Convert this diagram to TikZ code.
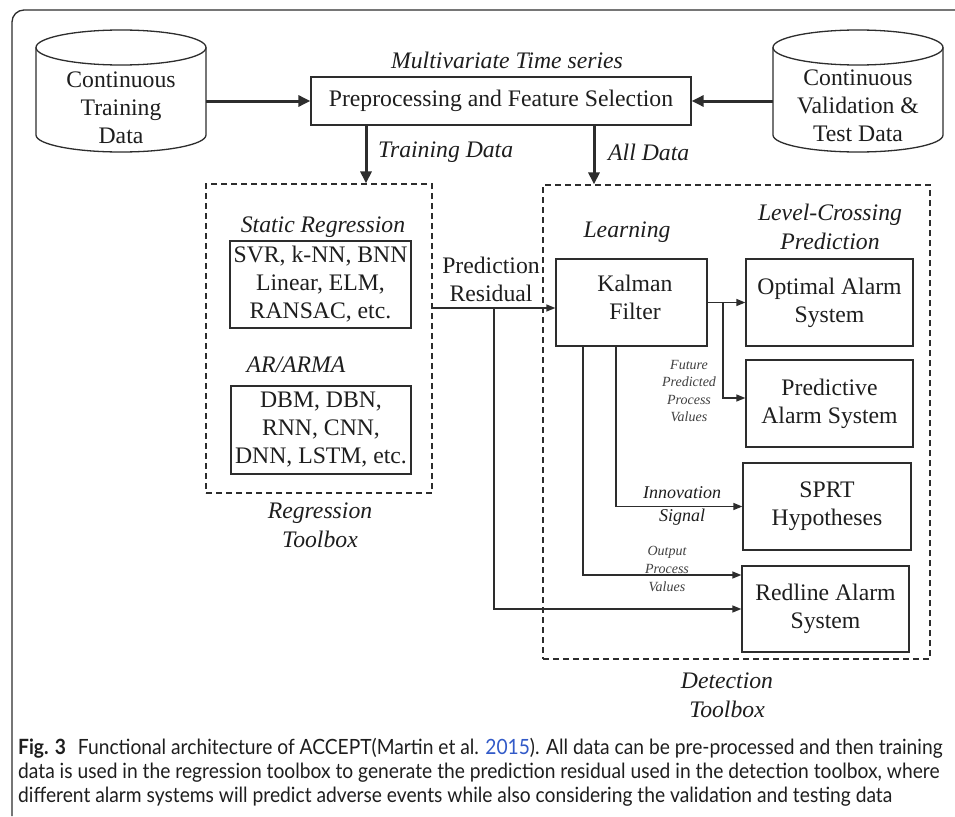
\documentclass[tikz,border=0pt]{standalone}
\usepackage{fontspec}
\setmainfont{Liberation Serif}
\newfontfamily\capfont[FakeStretch=0.915]{Lato}
\usetikzlibrary{arrows.meta,calc}
\definecolor{linec}{RGB}{45,45,45}
\definecolor{txtc}{RGB}{30,30,30}
\definecolor{linkc}{RGB}{50,90,200}
\newcommand{\fsz}[2]{\fontsize{#1}{#2}\selectfont}
\tikzset{
  box/.style={draw=linec, line width=1.3pt, inner sep=0pt, align=center, text=txtc, font=\fsz{23.7}{28}},
  txt/.style={inner sep=0pt, align=center, text=txtc, font=\fsz{23.7}{28}},
  itl/.style={inner sep=0pt, align=center, text=txtc, font=\fsz{23.7}{29}\itshape},
  sml/.style={inner sep=0pt, align=center, text=txtc!85, font=\fsz{14}{17.6}\itshape},
  mid/.style={inner sep=0pt, align=center, text=txtc, font=\fsz{18}{23}\itshape},
  dbox/.style={draw=linec, line width=1.2pt, dash pattern=on 6pt off 4pt},
  thick arrow/.style={draw=linec, line width=3pt, -{Triangle[length=12pt,width=11pt]}},
  thin arrow/.style={draw=linec, line width=1.3pt, -{Triangle[length=9pt,width=7pt]}},
  cyl/.style={draw=linec, line width=1.3pt},
  ghost/.style={inner sep=0pt, minimum width=170pt, minimum height=122pt},
  capt/.style={inner sep=0pt, anchor=base west, text=txtc, font=\fsz{21}{24}\capfont}
}
\begin{document}
\begin{tikzpicture}[x=1pt,y=-1pt]
\useasboundingbox (0,0) rectangle (955,816);
\fill[white] (0,0) rectangle (955,816);
% outer frame
\draw[line width=1.3pt, linec, rounded corners=12pt] (12,816) -- (12,10) -- (955,10);

% cylinders
\node[ghost] (ctd) at (121,91) {};
\draw[cyl] (36,47.5) -- (36,135) arc[start angle=180, end angle=0, x radius=85, y radius=17] -- (206,47.5);
\draw[cyl] (121,47.5) ellipse [x radius=85, y radius=17.5];
\node[txt] (ctdt) at (121,108) {Continuous\\Training\\Data};

\node[ghost] (cvd) at (858,91) {};
\draw[cyl] (773,47.5) -- (773,135) arc[start angle=180, end angle=0, x radius=85, y radius=17] -- (943,47.5);
\draw[cyl] (858,47.5) ellipse [x radius=85, y radius=17.5];
\node[txt] (cvdt) at (858,106) {Continuous\\Validation \&\\Test Data};

% preprocessing
\node[box, minimum width=380pt, minimum height=48pt] (pre) at (501,101) {Preprocessing and Feature Selection};
\node[itl] (mts) at (507,60) {Multivariate Time series};

\draw[thick arrow] (ctd.east |- pre.west) -- (pre.west);
\draw[thick arrow] (cvd.west |- pre.east) -- (pre.east);

% dashed toolboxes
\node[dbox, inner sep=0pt, minimum width=226pt, minimum height=309pt] (reg) at (319,338.5) {};
\node[dbox, inner sep=0pt, minimum width=387pt, minimum height=474pt] (det) at (736.5,422) {};

\coordinate (tdA) at (366,125);
\coordinate (adA) at (594,125);
\draw[thick arrow] (tdA) -- (tdA |- reg.north);
\draw[thick arrow] (adA) -- (adA |- det.north);
\node[itl, anchor=west] (tdl) at (378,152) {Training Data};
\node[itl, anchor=west] (adl) at (608,152) {All Data};

% regression toolbox contents
\node[itl] (sreg) at (323,227) {Static Regression};
\node[box, minimum width=181pt, minimum height=87pt] (b1) at (320.5,284.5) {SVR, k-NN, BNN\\Linear, ELM,\\RANSAC, etc.};
\node[itl] (arma) at (296,365) {AR/ARMA};
\node[box, minimum width=180pt, minimum height=88pt] (b2) at (321,430) {DBM, DBN,\\RNN, CNN,\\DNN, LSTM, etc.};
\node[itl] (regl) at (320,525) {Regression\\Toolbox};

% detection toolbox contents
\node[itl] (learn) at (627,232) {Learning};
\node[itl] (lcp) at (830,227) {Level-Crossing\\Prediction};
\node[box, minimum width=151pt, minimum height=87pt] (kal) at (631.5,302.5) {};
\node[txt] (kalt) at (635,297) {Kalman\\Filter};
\node[box, minimum width=167pt, minimum height=87pt] (opt) at (829.5,302.5) {Optimal Alarm\\System};
\node[box, minimum width=167pt, minimum height=87pt] (pred) at (829.5,403.5) {Predictive\\Alarm System};
\node[box, minimum width=168pt, minimum height=87pt] (sprt) at (827,506.5) {SPRT\\Hypotheses};
\node[box, minimum width=167pt, minimum height=86pt] (red) at (825.5,609) {Redline Alarm\\System};
\node[itl] (detl) at (727,695) {Detection\\Toolbox};

\node[txt] (prl) at (491,279) {Prediction\\Residual};

% connectors
\coordinate (br) at (494,308);
\draw[thin arrow] (reg.east |- br) -- (kal.west |- br);
\draw[thin arrow] (br) |- (red.west);

\coordinate (fk) at (723,302.5);
\draw[thin arrow] (kal.east) -- (opt.west);
\draw[thin arrow] (fk) |- (pred.west |- 0,398);

\coordinate (ki) at (616,346);
\draw[thin arrow] (ki) |- (sprt.west);
\coordinate (ko) at (583,346);
\draw[thin arrow] (ko) |- (red.west |- 0,575);

\node[sml] (fpl) at (689,391) {Future\\Predicted\\Process\\Values};
\node[mid] (inl) at (682,506) {Innovation\\Signal};
\node[sml] (opl) at (667,569) {Output\\Process\\Values};

% caption
\node[capt] (c1) at (18,754) {\textbf{Fig. 3}\hspace{7pt} Functional architecture of ACCEPT(Martin et al. \textcolor{linkc}{2015}). All data can be pre-processed and then training};
\node[capt] (c2) at (18,778) {data is used in the regression toolbox to generate the prediction residual used in the detection toolbox, where};
\node[capt] (c3) at (18,802) {different alarm systems will predict adverse events while also considering the validation and testing data};
\end{tikzpicture}
\end{document}
